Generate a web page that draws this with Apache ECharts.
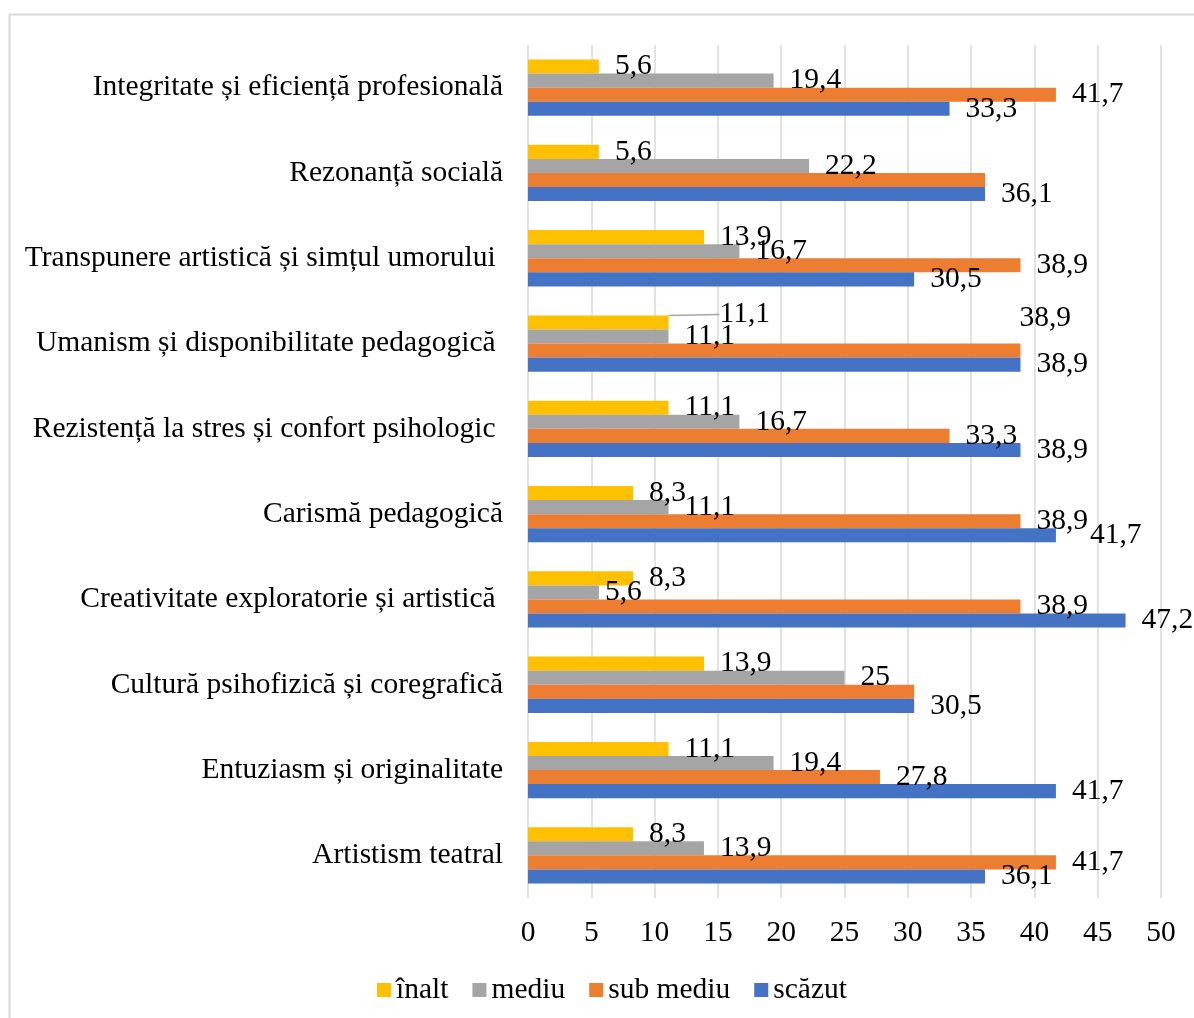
<!DOCTYPE html>
<html>
<head>
<meta charset="utf-8">
<script src="https://cdn.jsdelivr.net/npm/echarts@6/dist/echarts.min.js"></script>
<style>
  html, body { margin: 0; padding: 0; background: #fff; }
  #main { width: 1194px; height: 1018px; }
</style>
</head>
<body>
<div id="main"></div>
<script>
// categories, top to bottom as in the picture
var categories = [
  'Integritate și eficiență profesională',
  'Rezonanță socială',
  'Transpunere artistică și simțul umorului ',
  'Umanism și disponibilitate pedagogică ',
  'Rezistență la stres și confort psihologic ',
  'Carismă pedagogică',
  'Creativitate exploratorie și artistică ',
  'Cultură psihofizică și coregrafică',
  'Entuziasm și originalitate',
  'Artistism teatral'
];

var inalt    = [5.6, 5.6, 13.9, 11.1, 11.1, 8.3, 8.3, 13.9, 11.1, 8.3];
var mediu    = [19.4, 22.2, 16.7, 11.1, 16.7, 11.1, 5.6, 25, 19.4, 13.9];
var subMediu = [41.7, 36.1, 38.9, 38.9, 33.3, 38.9, 38.9, 30.5, 27.8, 41.7];
var scazut   = [33.3, 36.1, 30.5, 38.9, 38.9, 41.7, 47.2, 30.5, 41.7, 36.1];

var seriesNames = ['înalt', 'mediu', 'sub mediu', 'scăzut'];
var colors = ['#FFC000', '#A5A5A5', '#ED7D31', '#4472C4'];

// labels that excel moved around: [seriesIndex, categoryIndex, dx, dy]
var labelMoves = [
  [0, 3, 35, -8],
  [2, 3, -17, -32],
  [3, 5, 18, 0],
  [1, 6, -10, 0]
];
// labels that excel dropped
var hiddenLabels = [[2, 1], [2, 7]];

var FONT = '"Liberation Serif", "Times New Roman", serif';

function findMove(s, i) {
  for (var k = 0; k < labelMoves.length; k++) {
    if (labelMoves[k][0] === s && labelMoves[k][1] === i) return labelMoves[k];
  }
  return null;
}
function isHidden(s, i) {
  return hiddenLabels.some(function (h) { return h[0] === s && h[1] === i; });
}

function makeSeries(idx, values) {
  return {
    name: seriesNames[idx],
    type: 'bar',
    barGap: '0%',
    barCategoryGap: '34%',
    itemStyle: { color: colors[idx] },
    label: {
      show: true,
      position: 'right',
      distance: 16,
      offset: [0, 3],
      color: '#000',
      fontFamily: FONT,
      fontSize: 29.5,
      formatter: function (p) { return String(p.value).replace('.', ','); }
    },
    labelLine: { show: false },
    labelLayout: function (params) {
      var m = findMove(idx, params.dataIndex);
      if (m) return { dx: m[2], dy: m[3] };
      return {};
    },
    data: values.map(function (v, i) {
      var item = { value: v };
      if (isHidden(idx, i)) item.label = { show: false };
      if (idx === 0 && i === 3) item.labelLine = { show: true, lineStyle: { color: '#A5A5A5', width: 1.5 } };
      return item;
    })
  };
}

var chart = echarts.init(document.getElementById('main'));

var option = {
  animation: false,
  backgroundColor: '#fff',
  textStyle: { fontFamily: FONT },
  graphic: [{
    type: 'rect',
    shape: { x: 9.5, y: 14.5, width: 1400, height: 1200 },
    style: { fill: 'none', stroke: '#d9d9d9', lineWidth: 2 },
    silent: true
  }],
  grid: { left: 528, right: 33, top: 45, bottom: 120, containLabel: false },
  legend: {
    data: seriesNames,
    left: 372,
    top: 970,
    itemWidth: 14,
    itemHeight: 14,
    itemGap: 24,
    icon: 'rect',
    textStyle: { fontFamily: FONT, fontSize: 29.5, color: '#000' }
  },
  xAxis: {
    type: 'value',
    min: 0,
    max: 50,
    interval: 5,
    axisLine: { show: false },
    axisTick: { show: false },
    splitLine: { lineStyle: { color: '#d9d9d9', width: 1.5 } },
    axisLabel: { color: '#000', fontFamily: FONT, fontSize: 29.5, margin: 20 }
  },
  yAxis: {
    type: 'category',
    inverse: true,
    data: categories,
    axisLine: { show: false },
    axisTick: { show: false },
    axisLabel: { color: '#000', fontFamily: FONT, fontSize: 29.5, margin: 25 }
  },
  series: [
    makeSeries(0, inalt),
    makeSeries(1, mediu),
    makeSeries(2, subMediu),
    makeSeries(3, scazut)
  ]
};

chart.setOption(option);
</script>
</body>
</html>
